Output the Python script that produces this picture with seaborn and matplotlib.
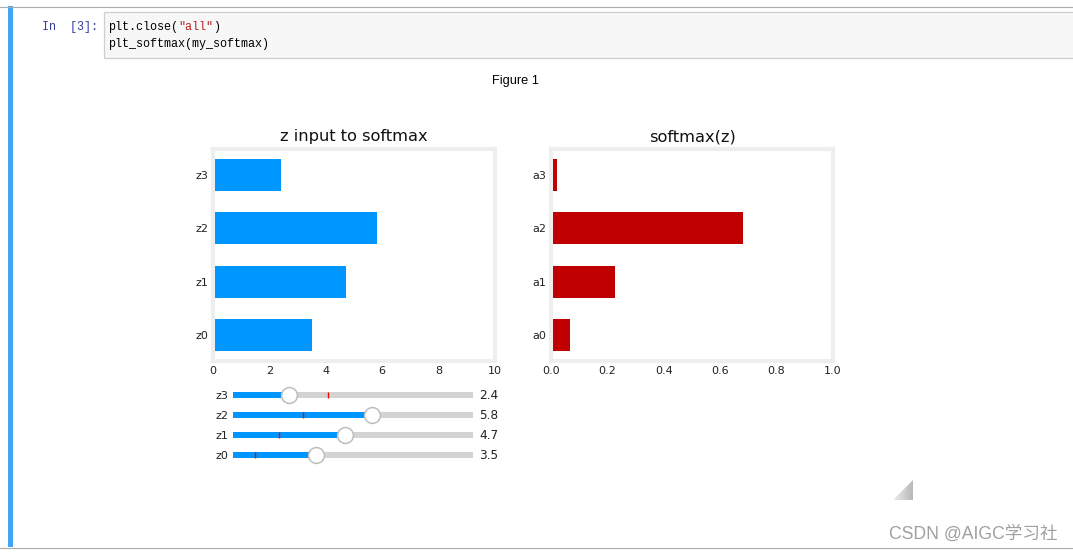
import matplotlib
matplotlib.use("Agg")
import matplotlib.pyplot as plt
import numpy as np
import seaborn as sns
from matplotlib.patches import Polygon, Rectangle

sns.set_theme(style="white")
plt.rcParams['font.family'] = ['DejaVu Sans', 'Noto Sans CJK SC']

z_labels = ["z3", "z2", "z1", "z0"]
z_values = [2.4, 5.8, 4.7, 3.5]
a_labels = ["a3", "a2", "a1", "a0"]
a_values = [0.023, 0.682, 0.227, 0.068]
z_initial = [4.0, 3.0, 2.0, 1.0]
z_ticks = [0, 2, 4, 6, 8, 10]
a_ticks = [0.0, 0.2, 0.4, 0.6, 0.8, 1.0]

W, H = 1073, 553
BLUE, RED = "#0096ff", "#c00000"
fig = plt.figure(figsize=(W / 100, H / 100), dpi=100, facecolor="white")


def px_axes(l, t, r, b, **kw):
    return fig.add_axes([l / W, 1 - b / H, (r - l) / W, (b - t) / H], **kw)


# notebook chrome
bg = px_axes(0, 0, W, H)
bg.set_xlim(0, W)
bg.set_ylim(H, 0)
bg.axis("off")
bg.add_patch(Rectangle((8, 6), 5, 541, color="#42a5f5", lw=0))
bg.plot([0, W], [6.5, 6.5], color="#ababab", lw=0.8)
bg.plot([0, W], [547.5, 547.5], color="#ababab", lw=0.8)
bg.add_patch(Rectangle((103.5, 12), 975, 46, fc="#f7f7f7", ec="#cfcfcf", lw=0.9))
mono = "Liberation Mono"
fs = 8.45
bg.text(42, 27, "In  [3]:", family=mono, size=fs, color="#303f9f", va="center")
bg.text(108, 27, "plt.close(", family=mono, size=fs, color="black", va="center")
bg.text(178, 27, '"all"', family=mono, size=fs, color="#ba2121", va="center")
bg.text(213, 27, ")", family=mono, size=fs, color="black", va="center")
bg.text(108, 44, "plt_softmax(my_softmax)", family=mono, size=fs, color="black", va="center")
bg.text(515, 81, "Figure 1", family="Liberation Sans", size=9.2, color="black", ha="center", va="center")
tri = Polygon([(893, 500), (913, 480), (913, 500)], fc="none", ec="none")
bg.add_patch(tri)
grad = np.linspace(0.93, 0.72, 64).reshape(1, -1)
im = bg.imshow(grad, extent=(893, 913, 500, 480), cmap="gray", vmin=0, vmax=1, aspect="auto")
im.set_clip_path(tri)
bg.set_xlim(0, W)
bg.set_ylim(H, 0)
bg.text(889, 534, "CSDN @AIGC学习社", family=["Liberation Sans", "Noto Sans CJK SC"],
        size=12.7, color="#a0a0a0", va="center")


def bar_panel(box, labels, values, color, title, ticks, xmax):
    ax = px_axes(*box)
    sns.barplot(x=values, y=labels, order=labels, orient="h", color=color,
                width=0.6, saturation=1, linewidth=0, ax=ax)
    ax.set_xlim(0, xmax)
    ax.set_ylim(3.49, -0.49)
    ax.set_xticks(ticks)
    ax.set_xticklabels([str(t) for t in ticks])
    ax.set_xlabel("")
    ax.set_ylabel("")
    ax.set_title(title, fontsize=11.7, color="#111111", pad=5.5)
    ax.tick_params(length=0, labelsize=8, colors="#222222", pad=3.5)
    for s in ax.spines.values():
        s.set_visible(True)
        s.set_color("#eeeeee")
        s.set_linewidth(2.9)
    return ax


bar_panel((213, 149, 495, 361), z_labels, z_values, BLUE, "z input to softmax", z_ticks, 10)
bar_panel((551, 149, 833, 361), a_labels, a_values, RED, "softmax(z)", a_ticks, 1.0)

# sliders
sl = px_axes(233, 385, 473, 465)
sns.barplot(x=[9.975] * 4, y=z_labels, order=z_labels, orient="h", color="#d3d3d3",
            width=0.34, saturation=1, linewidth=0, ax=sl)
sns.barplot(x=z_values, y=z_labels, order=z_labels, orient="h", color=BLUE,
            width=0.34, saturation=1, linewidth=0, ax=sl)
sl.set_xlim(0.1, 9.975)
sl.set_ylim(3.5, -0.5)
sl.set_xlabel("")
sl.set_ylabel("")
sl.set_xticks([])
sl.tick_params(length=0, labelsize=8, colors="#222222", pad=3.5)
for s in sl.spines.values():
    s.set_visible(False)
ys = np.arange(len(z_labels))
sl.scatter(z_initial, ys, marker="|", s=25, color="red", linewidths=1, zorder=4)
sl.scatter(z_values, ys, s=130, facecolor="white", edgecolor="#bdbdbd", linewidths=1.1, zorder=5)
for y, v in zip(ys, z_values):
    sl.annotate(f"{v:.1f}", (1, y), xycoords=("axes fraction", "data"), xytext=(4.3, -0.6),
                textcoords="offset points", va="center", fontsize=8.7, color="#222222")

fig.savefig("out.png", dpi=100)
